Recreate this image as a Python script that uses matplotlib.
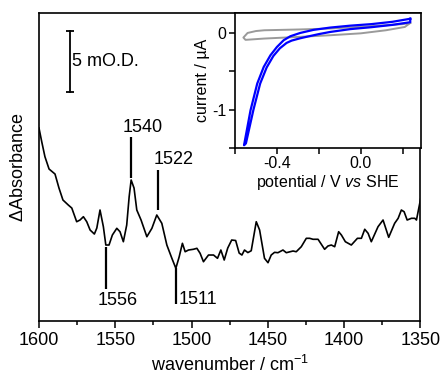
import numpy as np
import matplotlib
matplotlib.use('Agg')
import matplotlib.pyplot as plt
from matplotlib.ticker import MultipleLocator

plt.rcParams['font.family'] = ['Liberation Sans', 'DejaVu Sans']
plt.rcParams['mathtext.fontset'] = 'custom'
plt.rcParams['mathtext.rm'] = 'Liberation Sans'
plt.rcParams['mathtext.it'] = 'Liberation Sans:italic'
plt.rcParams['axes.unicode_minus'] = False

# IR difference spectrum (wavenumber in cm-1, absorbance in mO.D.)
wn = [1600.0, 1598.2, 1596.1, 1593.4, 1589.5, 1586.9, 1584.3, 1580.8, 1578.5, 1575.3,
      1573.1, 1570.9, 1568.7, 1566.5, 1563.7, 1562.1, 1560.0, 1557.8, 1556.2, 1554.1,
      1551.9, 1549.0, 1546.9, 1544.7, 1542.5, 1540.9, 1539.6, 1537.7, 1535.9, 1533.1,
      1529.3, 1526.0, 1522.8, 1519.5, 1516.2, 1512.9, 1510.3, 1508.1, 1506.0, 1504.2,
      1502.0, 1498.8, 1496.5, 1494.4, 1492.2, 1488.9, 1485.6, 1483.0, 1480.8, 1478.6,
      1476.3, 1473.7, 1471.1, 1468.8, 1467.0, 1465.3, 1463.1, 1460.9, 1457.6, 1455.4,
      1452.2, 1449.9, 1447.8, 1445.6, 1443.4, 1440.1, 1437.9, 1433.5, 1431.4, 1428.1,
      1424.8, 1422.6, 1420.4, 1417.1, 1412.8, 1410.6, 1408.4, 1406.2, 1403.6, 1401.8,
      1399.2, 1395.3, 1391.3, 1388.7, 1386.5, 1384.3, 1382.2, 1377.8, 1374.5, 1370.8,
      1366.9, 1364.6, 1362.5, 1360.7, 1358.7, 1355.9, 1353.7, 1352.6, 1349.8]
absorb = [15.82, 14.70, 13.47, 12.46, 12.05, 10.90, 9.92, 9.51, 9.26, 8.14,
          8.28, 8.55, 8.14, 7.46, 7.13, 7.62, 9.10, 7.73, 6.23, 6.23,
          7.05, 7.60, 7.32, 6.50, 7.87, 10.19, 11.56, 10.90, 9.10, 8.28,
          6.91, 7.60, 8.69, 8.01, 6.23, 5.14, 4.32, 5.27, 6.37, 5.68,
          5.82, 5.88, 5.96, 5.55, 4.86, 5.41, 5.41, 5.14, 5.82, 5.00,
          5.98, 6.64, 6.60, 5.57, 5.41, 5.82, 5.61, 5.76, 8.14, 7.46,
          5.14, 4.78, 5.41, 5.63, 5.60, 5.82, 5.60, 5.74, 5.68, 6.09,
          6.78, 6.78, 6.70, 6.70, 5.88, 6.15, 6.23, 6.09, 7.32, 7.05,
          6.50, 6.23, 6.78, 6.78, 7.52, 7.19, 6.50, 7.73, 8.28, 6.86,
          8.01, 8.42, 9.10, 8.96, 8.28, 8.42, 8.42, 8.28, 10.06]

# peak markers: position, line start/end (mO.D.), label position
peak_wn = [1539.6, 1522.3, 1556.0, 1510.5]
peak_y0 = [11.72, 9.10, 6.09, 4.34]
peak_y1 = [15.08, 12.38, 2.60, 1.39]
peak_lbl = ['1540', '1522', '1556', '1511']
lbl_x = [1545.5, 1525.0, 1548.5, 1508.8]
lbl_y = [15.9, 13.2, 1.72, 1.75]
lbl_ha = ['left', 'left', 'center', 'left']

# scale bar 5 mO.D.
bar_wn = 1579.7
bar_y = [18.77, 23.77]

# cyclic voltammograms (V vs SHE, uA)
cv_v_blue = [0.236, 0.15, 0.05, -0.05, -0.146, -0.226, -0.289, -0.336, -0.368, -0.40,
             -0.431, -0.463, -0.494, -0.526, -0.557,
             -0.548, -0.512, -0.48, -0.449, -0.417, -0.386, -0.354, -0.33, -0.29,
             -0.25, -0.2, -0.146, -0.05, 0.05, 0.15, 0.236, 0.236]
cv_i_blue = [0.185, 0.145, 0.115, 0.095, 0.07, 0.04, 0.0, -0.043, -0.095, -0.183,
             -0.291, -0.443, -0.660, -1.008, -1.464,
             -1.44, -1.0, -0.66, -0.45, -0.30, -0.20, -0.13, -0.10, -0.07,
             -0.045, -0.015, 0.013, 0.05, 0.075, 0.105, 0.14, 0.185]
cv_v_gray = [0.236, 0.2, 0.0, -0.15, -0.3, -0.46, -0.50, -0.54, -0.56,
             -0.55, -0.46, -0.3, -0.146, 0.0, 0.12, 0.21, 0.236]
cv_i_gray = [0.13, 0.115, 0.08, 0.057, 0.045, 0.035, 0.025, 0.0, -0.06,
             -0.09, -0.073, -0.052, -0.03, -0.005, 0.035, 0.078, 0.13]

fig = plt.figure(figsize=(4.42, 3.77), dpi=100)
ax = fig.add_axes([0.0882, 0.1485, 0.863, 0.817])

ax.plot(wn, absorb, color='black', lw=1.2)
for w, y0, y1 in zip(peak_wn, peak_y0, peak_y1):
    ax.plot([w, w], [y0, y1], color='black', lw=1.6, solid_capstyle='butt')
for t, x, y, ha in zip(peak_lbl, lbl_x, lbl_y, lbl_ha):
    ax.text(x, y, t, fontsize=13, ha=ha, va='center')

ax.plot([bar_wn, bar_wn], bar_y, color='black', lw=1.3, marker='_', markersize=6, mew=1.3)
ax.text(bar_wn - 1.5, np.mean(bar_y), '5 mO.D.', fontsize=13, ha='left', va='center')

ax.set_xlim(1600, 1350)
ax.set_ylim(0, 25.25)
ax.xaxis.set_major_locator(MultipleLocator(50))
ax.xaxis.set_minor_locator(MultipleLocator(25))
ax.tick_params(axis='x', which='major', direction='out', length=5, width=1.1, labelsize=13, pad=3)
ax.tick_params(axis='x', which='minor', direction='out', length=3, width=1.1)
ax.set_yticks([])
for s in ax.spines.values():
    s.set_linewidth(1.2)
ax.set_xlabel('wavenumber / cm$^{-1}$', fontsize=13, labelpad=4)
ax.set_ylabel('$\\Delta$Absorbance', fontsize=13)
ax.yaxis.set_label_coords(-0.032, 0.5)

# inset
axi = fig.add_axes([0.5317, 0.6074, 0.4197, 0.3581])
axi.plot(cv_v_gray, cv_i_gray, color='#9a9a9a', lw=1.4)
axi.plot(cv_v_blue, cv_i_blue, color='#0000ff', lw=1.6)
axi.set_xlim(-0.6, 0.285)
axi.set_ylim(-1.5, 0.26)
axi.xaxis.set_major_locator(MultipleLocator(0.4))
axi.xaxis.set_minor_locator(MultipleLocator(0.2))
axi.yaxis.set_major_locator(MultipleLocator(1))
axi.yaxis.set_minor_locator(MultipleLocator(0.5))
axi.xaxis.set_major_formatter(matplotlib.ticker.FuncFormatter(lambda v, p: '%.1f' % v))
axi.yaxis.set_major_formatter(matplotlib.ticker.FuncFormatter(lambda v, p: '%d' % round(v)))
axi.tick_params(which='major', direction='out', length=4, width=1.1, labelsize=11.5, pad=2)
axi.tick_params(which='minor', direction='out', length=4, width=1.1)
for s in axi.spines.values():
    s.set_linewidth(1.2)
axi.set_xlabel('potential / V $\\it{vs}$ SHE', fontsize=11.5, labelpad=1)
axi.set_ylabel('current / \u00b5A', fontsize=11.5, labelpad=2)

fig.savefig('out.png', dpi=100)
